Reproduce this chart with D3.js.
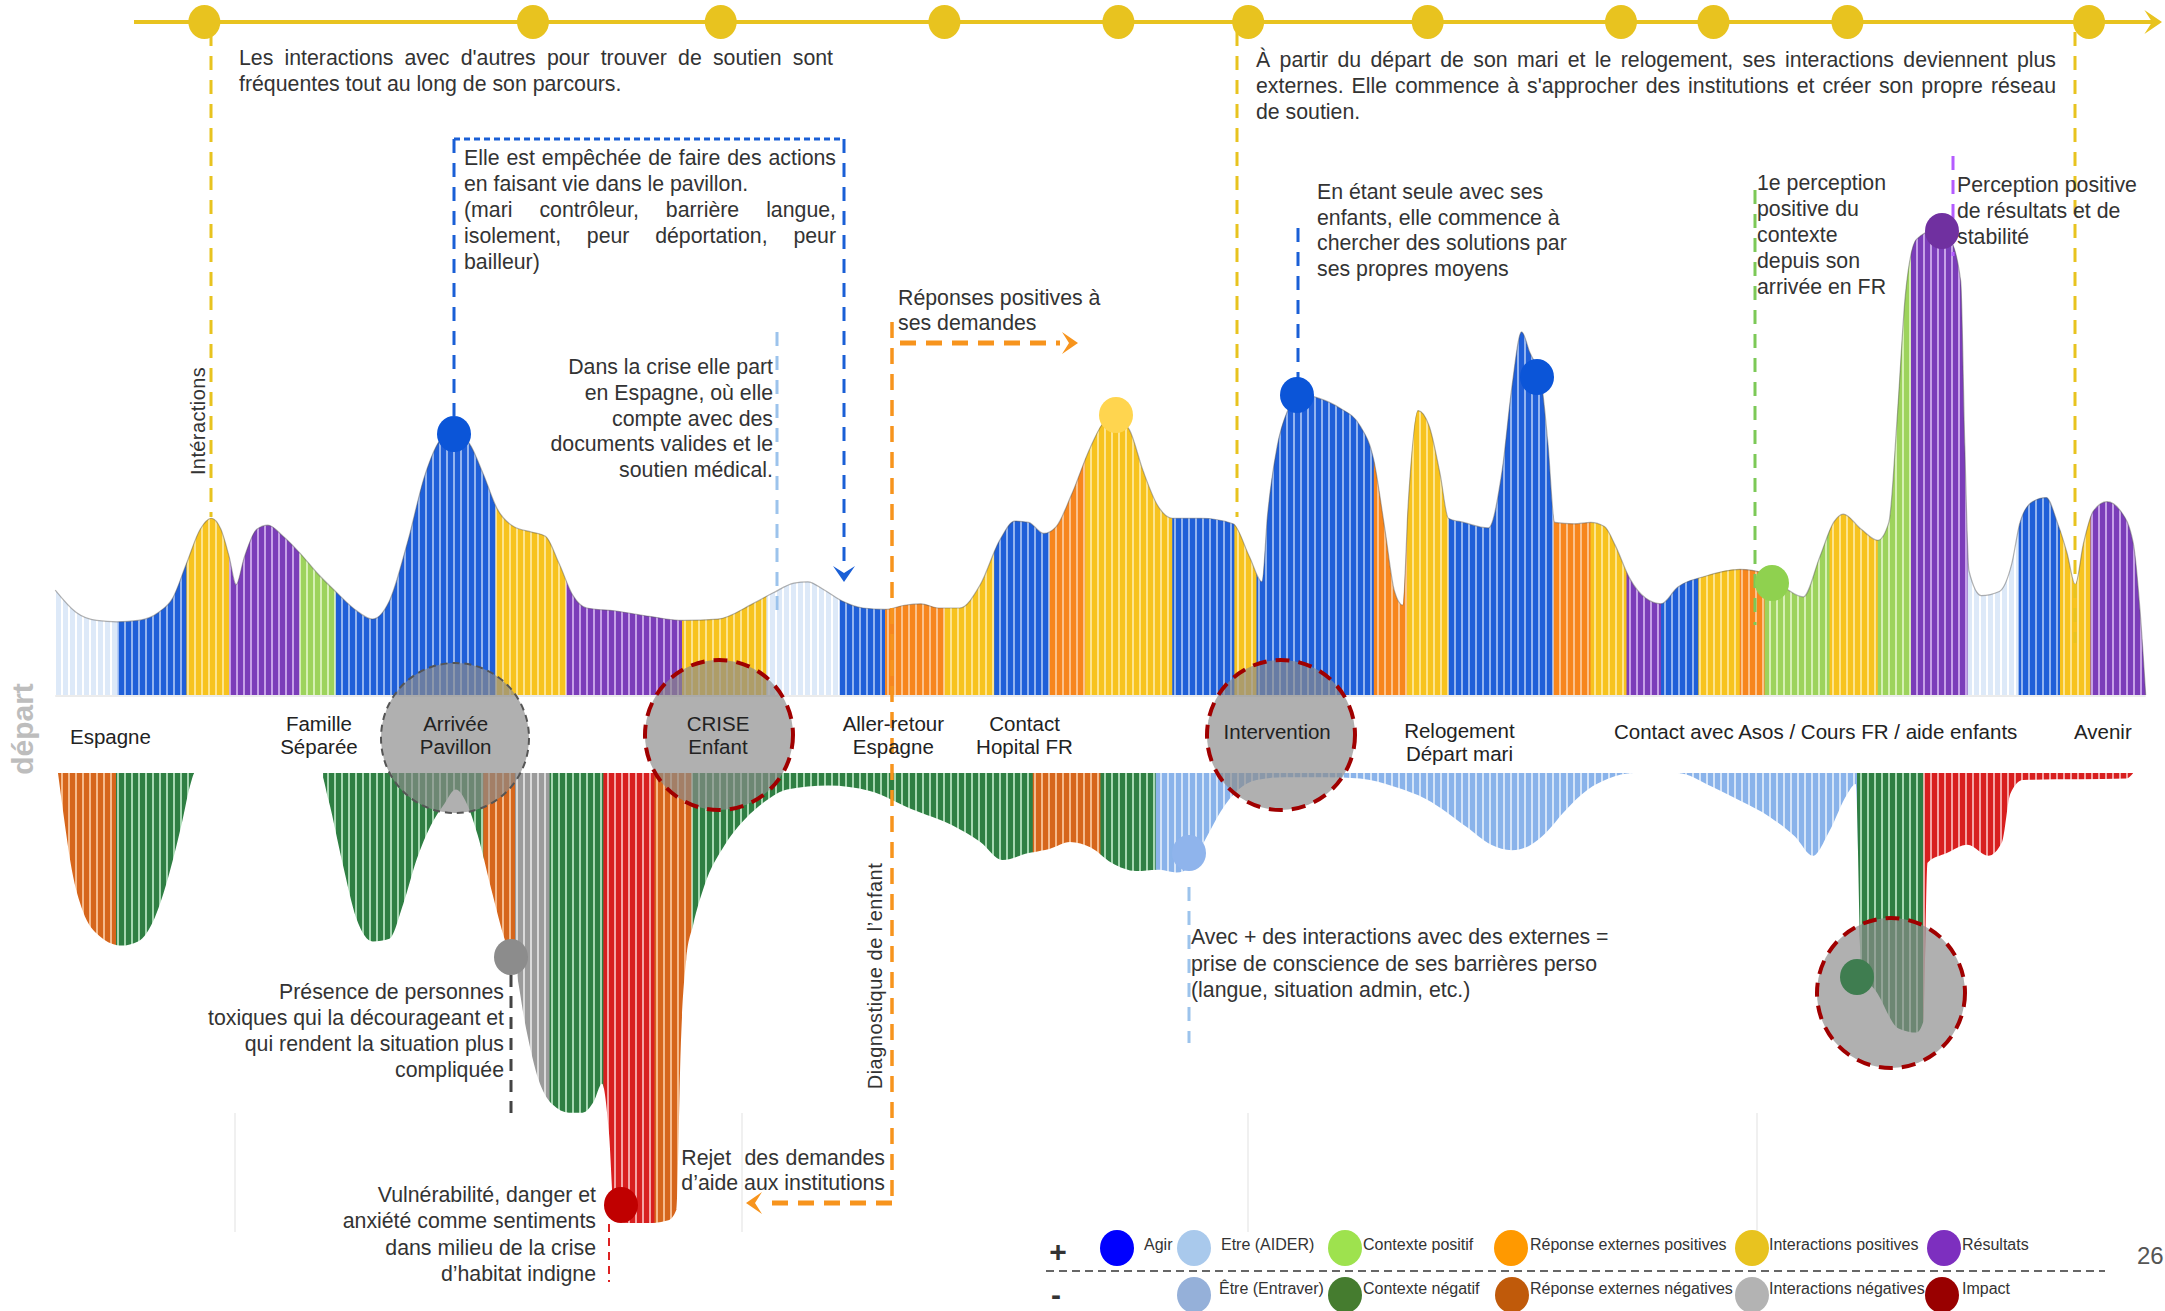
<!DOCTYPE html>
<html><head><meta charset="utf-8">
<script src="https://cdn.jsdelivr.net/npm/d3@7"></script>
<style>
html,body{margin:0;padding:0;background:#fff;}
svg{display:block;}
text{font-family:"Liberation Sans", Arial, sans-serif;}
</style></head><body>
<svg id="chart" width="2165" height="1311"></svg>
<script>
// ---------------- DATA ----------------
// upper curve (positive) : time step and intensity
const topTime = [40,55,70,85,100,115,125,135,145,153,160,166,171,177,186,194,205,217,230,243,257,270,282,295,308,320,329,340,350,360,372,385,395,405,415,425,445,470,495,520,545,560,575,585,597,610,625,641,655,667,680,695,710,724,735,745,756,765,776,790,800,808,818,828,838,849,870,893,905,914,918,925,933,941,955,970,985,995,1003,1010,1016,1020,1027,1035,1043,1049,1060,1078,1088,1095,1102,1108,1116,1121,1126,1140,1152,1162,1170,1180,1192,1203,1215,1235,1260,1278,1292,1306,1318,1328,1335,1348,1360,1368,1374,1380,1388,1400,1412,1420,1423,1426,1435,1448,1457,1463,1472,1482,1490,1497,1503,1509,1516,1526,1536,1545,1550,1554];
const topIntensity = [76,60,54,53,54,60,70,95,120,128,120,100,80,100,120,123,115,103,88,75,62,55,68,110,160,186,190,182,160,135,122,118,115,95,72,63,61,57,54,55,66,74,81,82,76,68,63,62,65,66,63,63,80,112,126,125,117,122,145,180,198,201,192,162,138,128,128,124,100,82,130,180,207,218,215,208,195,170,120,75,65,140,206,195,160,128,125,121,163,223,263,248,228,183,125,124,125,122,108,85,70,66,78,86,91,88,78,71,100,125,131,120,112,125,200,290,330,336,330,300,180,90,72,75,95,125,140,143,125,103,80,110,133,140,133,110,60,0];
const topBreaks = [40,85,135,166,217,243,359,410,494,555,608,641,684,720,760,786,849,894,910,995,1019,1049,1125,1152,1178,1203,1230,1260,1278,1325,1360,1384,1425,1462,1492,1514,1554];
const topCats = ['etreAider','agir','interPos','resultats','contextePos','agir','interPos','resultats','interPos','etreAider','agir','reponsePos','interPos','agir','reponsePos','interPos','agir','interPos','agir','reponsePos','interPos','agir','reponsePos','interPos','resultats','agir','interPos','reponsePos','contextePos','interPos','contextePos','resultats','etreAider','agir','interPos','resultats'];

// lower curve (negative)
const bottomTime = [42,46,52,60,72,88,100,112,122,132,138,141,232,238,248,258,270,282,292,302,312,322,330,338,346,356,366,373,381,390,400,412,422,430,436,441,445,455,470,484,490,493,497,502,510,525,540,555,570,600,630,660,690,710,726,745,760,775,790,805,823,840,852,862,872,884,897,910,930,960,985,1010,1033,1062,1080,1095,1107,1120,1132,1150,1165,1183,1215,1240,1260,1282,1300,1313,1325,1338,1344,1348,1360,1375,1388,1393,1396,1410,1425,1440,1450,1456,1465,1540,1545];
const bottomIntensity = [0,30,70,100,118,125,122,105,75,35,8,0,0,20,65,105,122,120,95,62,38,22,12,22,45,85,122,140,185,222,240,246,246,238,225,260,322,326,326,324,316,200,135,110,82,52,33,20,12,9,13,26,38,50,63,58,55,50,54,65,71,70,72,68,50,28,12,5,3,3,4,10,19,39,52,56,53,43,29,12,4,0,0,10,20,32,46,60,42,15,8,140,160,185,188,180,65,58,52,60,50,15,5,4,0];
const bottomBreaks = [42,84,140,234,350,373,398,437,474,501,748,797,837,1183,1215,1345,1393,1545];
const bottomCats = ['reponseNeg','contexteNeg',null,'contexteNeg','reponseNeg','interNeg','contexteNeg','impact','reponseNeg','contexteNeg','reponseNeg','contexteNeg','etreEntraver',null,'etreEntraver','contexteNeg','impact'];

// timeline milestones (top axis)
const timelineDots = [148,386,522,684,810,904,1034,1174,1241,1338,1513];

// stage labels on the central band
const stageTime = [80,231,330,520,647,742,925,1057,1315,1523];
const stageLabels = [['Espagne'],['Famille','Séparée'],['Arrivée','Pavillon'],['CRISE','Enfant'],['Aller-retour','Espagne'],['Contact','Hopital FR'],['Intervention'],['Relogement','Départ mari'],['Contact avec Asos / Cours FR / aide enfants'],['Avenir']];

// legend
const legendPlusKeys = ['agir','etreAider','contextePos','reponsePos','interPos','resultats'];
const legendPlusLabels = ['Agir','Etre (AIDER)','Contexte positif','Réponse externes positives','Interactions positives','Résultats'];
const legendMinusKeys = ['etreEntraver','contexteNeg','reponseNeg','interNeg','impact'];
const legendMinusLabels = ['Être (Entraver)','Contexte négatif','Réponse externes négatives','Interactions négatives','Impact'];

// ---------------- STYLES ----------------
const stripeColors = {
  agir:['#1f5fd8','#93b4ef'],
  etreAider:['#dde9f8','#ffffff'],
  contextePos:['#9dd35c','#d6f0b4'],
  reponsePos:['#f7861d','#fbc28c'],
  interPos:['#f7c31f','#fde48f'],
  resultats:['#7b3db9','#c6a1e7'],
  etreEntraver:['#8ab3ea','#d4e4f8'],
  contexteNeg:['#2f7f43','#a6d7b1'],
  reponseNeg:['#d6661c','#f5ba8c'],
  interNeg:['#9b9b9b','#dadada'],
  impact:['#d81f1f','#f4a4a4']
};
const legendColors = {agir:'#0000ff',etreAider:'#a9c9ec',contextePos:'#9ee24e',reponsePos:'#ff9900',interPos:'#e8c31f',resultats:'#7d2fbf',
  etreEntraver:'#95b0d9',contexteNeg:'#457c2f',reponseNeg:'#c05a0a',interNeg:'#b3b3b3',impact:'#990000'};

const W = 2165, H = 1311;
const FS = 21.3;
const svg = d3.select('#chart');
const defs = svg.append('defs');
const x = d3.scaleLinear().domain([0,1568]).range([0,W]);
const yTop = d3.scaleLinear().domain([0,350]).range([695,695-350*1.3807]);
const yBot = d3.scaleLinear().domain([0,330]).range([773,773+330*1.3807]);

Object.entries(stripeColors).forEach(([k,[c,l]])=>{
  const p = defs.append('pattern').attr('id','pat-'+k).attr('patternUnits','userSpaceOnUse').attr('width',7).attr('height',10);
  p.append('rect').attr('width',7).attr('height',10).attr('fill',c);
  p.append('rect').attr('x',5).attr('width',2).attr('height',10).attr('fill',l);
});

const topData = topTime.map((t,i)=>[t,topIntensity[i]]);
const botData = bottomTime.map((t,i)=>[t,bottomIntensity[i]]);
const topArea = d3.area().curve(d3.curveMonotoneX).x(d=>x(d[0])).y0(yTop(0)).y1(d=>yTop(d[1]));
const botArea = d3.area().curve(d3.curveMonotoneX).x(d=>x(d[0])).y0(yBot(0)).y1(d=>yBot(d[1]));

function drawSegments(data, breaks, cats, gen, prefix){
  const g = svg.append('g');
  cats.forEach((cat,i)=>{
    if(!cat) return;
    const id = prefix+i;
    defs.append('clipPath').attr('id',id).append('rect')
      .attr('x',x(breaks[i])).attr('width',x(breaks[i+1])-x(breaks[i])+0.6)
      .attr('y',0).attr('height',H);
    g.append('path').datum(data).attr('d',gen).attr('fill',`url(#pat-${cat})`).attr('clip-path',`url(#${id})`);
  });
}
drawSegments(topData, topBreaks, topCats, topArea, 'ct');
drawSegments(botData, bottomBreaks, bottomCats, botArea, 'cb');
// top outline
svg.append('path').datum(topData)
  .attr('d', d3.line().curve(d3.curveMonotoneX).x(d=>x(d[0])).y(d=>yTop(d[1])))
  .attr('fill','none').attr('stroke','#555').attr('stroke-width',1.2).attr('stroke-opacity',0.45);
svg.append('line').attr('x1',x(40)).attr('x2',x(1554)).attr('y1',696).attr('y2',696).attr('stroke','#d8d8d8').attr('stroke-width',1);

// faint guide lines
[235,742,1248,1757].forEach(px=>svg.append('line').attr('x1',px).attr('x2',px).attr('y1',1113).attr('y2',1232).attr('stroke','#e6e6e6').attr('stroke-width',1.2));

// ---------------- helpers ----------------
function dashed(x1,y1,x2,y2,color,w,dash){
  return svg.append('line').attr('x1',x1).attr('y1',y1).attr('x2',x2).attr('y2',y2)
    .attr('stroke',color).attr('stroke-width',w).attr('stroke-dasharray',dash);
}
function chevron(cx,cy,angle,color,s){
  s = s||1;
  svg.append('path').attr('d','M-16,-11 L0,0 L-16,11 L-9,0 Z')
    .attr('transform',`translate(${cx},${cy}) rotate(${angle}) scale(${s})`).attr('fill',color);
}
function dot(cx,cy,color,rx,ry){
  svg.append('ellipse').attr('cx',cx).attr('cy',cy).attr('rx',rx||17).attr('ry',ry||18).attr('fill',color);
}
function para(lines, o){
  const g = svg.append('g').attr('font-size',o.size||FS).attr('fill',o.color||'#333');
  let width = o.width;
  if(o.widthFromLast){
    const t = g.append('text').text(lines[lines.length-1]);
    width = t.node().getComputedTextLength();
    t.remove();
  }
  const left = o.anchor==='end' && width ? o.x - width : o.x;
  lines.forEach((ln,i)=>{
    const y = o.y + i*(o.lh||26);
    if(o.justify && o.justify[i]){
      const words = ln.split(' ');
      const nodes = words.map(w=>g.append('text').attr('y',y).text(w));
      const ws = nodes.map(n=>n.node().getComputedTextLength());
      const gap = (width - d3.sum(ws))/(words.length-1);
      let cx = left;
      nodes.forEach((n,k)=>{n.attr('x',cx); cx += ws[k]+gap;});
    } else {
      g.append('text').attr('x',o.x).attr('y',y).attr('text-anchor',o.anchor||'start').text(ln);
    }
  });
}

// ---------------- timeline ----------------
const gold = '#e8c31f';
svg.append('line').attr('x1',134).attr('x2',2152).attr('y1',22).attr('y2',22).attr('stroke',gold).attr('stroke-width',4);
chevron(2162,22,0,gold,1.1);
timelineDots.forEach(t=>svg.append('ellipse').attr('cx',x(t)).attr('cy',22).attr('rx',16).attr('ry',17).attr('fill',gold));

// yellow guides
dashed(211,32,211,517,gold,3,'14,10');
dashed(1237,32,1237,517,gold,3,'14,10');
dashed(2075,32,2075,643,gold,3,'14,10');

para(['Les interactions avec d\'autres pour trouver de soutien sont','fréquentes tout au long de son parcours.'],
  {x:239,y:65,width:594,lh:26,justify:[true,false]});
para(['À partir du départ de son mari et le relogement, ses interactions deviennent plus','externes. Elle commence à s\'approcher des institutions et créer son propre réseau','de soutien.'],
  {x:1256,y:67,width:800,lh:26,justify:[true,true,false]});

// blue box annotation
const blue = '#1a5fd6';
dashed(454,139,844,139,blue,3,'6,4');
dashed(454,139,454,416,blue,3,'14,10');
dashed(844,139,844,566,blue,3,'14,10');
chevron(844,582,90,blue,1.0);
para(['Elle est empêchée de faire des actions','en faisant vie dans le pavillon.','(mari contrôleur, barrière langue,','isolement, peur déportation, peur','bailleur)'],
  {x:464,y:165,width:372,lh:26,justify:[true,false,true,true,false]});

// light blue guide + text
dashed(777,332,777,618,'#9cc3ec',3,'14,10');
para(['Dans la crise elle part','en Espagne, où elle','compte avec des','documents valides et le','soutien médical.'],
  {x:773,y:374,lh:25.8,anchor:'end'});

// orange annotations
const orange = '#f7941d';
dashed(892,322,892,1201,orange,3.5,'16,10');
dashed(900,343,1060,343,orange,5,'16,10');
chevron(1078,343,0,orange,1.0);
dashed(892,1203,765,1203,orange,5,'16,10');
chevron(746,1203,180,orange,1.0);
para(['Réponses positives à','ses demandes'],{x:898,y:305,lh:25});
para(['Rejet  des demandes','d’aide aux institutions'],{x:885,y:1165,lh:25,anchor:'end',widthFromLast:true,justify:[true,false]});
svg.append('text').attr('transform','translate(882,976) rotate(-90)').attr('text-anchor','middle')
  .attr('font-size',20).attr('letter-spacing',0.5).attr('fill','#333').text('Diagnostique de l’enfant');

svg.append('text').attr('transform','translate(205,421) rotate(-90)').attr('text-anchor','middle')
  .attr('font-size',20).attr('letter-spacing',0.4).attr('fill','#333').text('Intéractions');
svg.append('text').attr('transform','translate(33,729) rotate(-90)').attr('text-anchor','middle')
  .attr('font-size',30).attr('font-weight','bold').attr('fill','#bdbdbd').text('départ');

// right annotations
dashed(1298,228,1298,390,blue,3,'14,10');
para(['En étant seule avec ses','enfants, elle commence  à','chercher des solutions par','ses propres moyens'],{x:1317,y:199,lh:25.5});
dashed(1755,190,1755,625,'#7cc957',3,'14,10');
para(['1e perception','positive du','contexte','depuis son','arrivée en FR'],{x:1757,y:190,lh:26});
dashed(1953,156,1953,256,'#b45cff',3,'14,10');
para(['Perception positive','de résultats et de','stabilité'],{x:1957,y:192,lh:26});

// lower annotations
dashed(1189,887,1189,1043,'#9cc3ec',3,'14,10');
para(['Avec + des interactions avec des externes =','prise de conscience de ses barrières perso','(langue, situation admin, etc.)'],{x:1191,y:944,lh:26.5});
dashed(511,975,511,1118,'#444',3,'12,9');
para(['Présence de personnes','toxiques qui la décourageant et','qui rendent la situation plus','compliquée'],{x:504,y:999,lh:26,anchor:'end'});
dashed(609,1224,609,1282,'#d22',2,'8,6');
para(['Vulnérabilité, danger et','anxiété comme sentiments','dans milieu de la crise','d’habitat indigne'],{x:596,y:1202,lh:26.3,anchor:'end'});

// highlight circles
const circ = svg.append('g');
[[455,738,'#555',2,'7,5'],[719,735,'#a00000',4,'14,9'],[1281,735,'#a00000',4,'14,9'],[1891,993,'#a00000',4,'14,9']].forEach(([cx,cy,st,sw,da])=>{
  circ.append('ellipse').attr('cx',cx).attr('cy',cy).attr('rx',74).attr('ry',75)
    .attr('fill','#8a8a8a').attr('fill-opacity',0.68).attr('stroke',st).attr('stroke-width',sw).attr('stroke-dasharray',da);
});

// stage labels
stageLabels.forEach((lines,i)=>{
  const y0 = lines.length>1 ? (i===7 ? 738 : 731) : (i===0 ? 744 : 739);
  lines.forEach((ln,k)=>{
    svg.append('text').attr('x',x(stageTime[i])).attr('y',y0+k*23)
      .attr('text-anchor','middle').attr('font-size',20.5).attr('fill','#222').text(ln);
  });
});

// marker dots
dot(454,434,'#0b55d8');
dot(1116,415,'#ffd54f');
dot(1297,395,'#0b55d8');
dot(1537,377,'#0b55d8');
dot(1772,583,'#8fd14f');
dot(1942,231,'#7030a0');
dot(1189,853,'#8fb4ec');
dot(511,957,'#8c8c8c');
dot(621,1205,'#c00000');
dot(1857,977,'#3f7d50');

// ---------------- legend ----------------
const lg = svg.append('g');
lg.append('text').attr('x',1058).attr('y',1262).attr('text-anchor','middle').attr('font-size',30).attr('font-weight','bold').attr('fill','#333').text('+');
lg.append('text').attr('x',1056).attr('y',1305).attr('text-anchor','middle').attr('font-size',30).attr('font-weight','bold').attr('fill','#333').text('-');
lg.append('line').attr('x1',1046).attr('x2',2105).attr('y1',1271).attr('y2',1271).attr('stroke','#666').attr('stroke-width',2).attr('stroke-dasharray','8,5');
const plusCx = [1117,1194,1345,1511,1752,1944];
const plusLx = [1144,1221,1363,1530,1769,1962];
legendPlusKeys.forEach((k,i)=>{
  lg.append('ellipse').attr('cx',plusCx[i]).attr('cy',1248).attr('rx',17).attr('ry',18).attr('fill',legendColors[k]);
  lg.append('text').attr('x',plusLx[i]).attr('y',1250).attr('font-size',16).attr('fill','#333').text(legendPlusLabels[i]);
});
const minusCx = [1194,1345,1512,1752,1942];
const minusLx = [1219,1363,1530,1769,1962];
legendMinusKeys.forEach((k,i)=>{
  lg.append('ellipse').attr('cx',minusCx[i]).attr('cy',1295).attr('rx',17).attr('ry',18).attr('fill',legendColors[k]);
  lg.append('text').attr('x',minusLx[i]).attr('y',1294).attr('font-size',16).attr('fill','#333').text(legendMinusLabels[i]);
});
svg.append('text').attr('x',2137).attr('y',1264).attr('font-size',24).attr('fill','#555').text('26');
</script>
</body></html>
